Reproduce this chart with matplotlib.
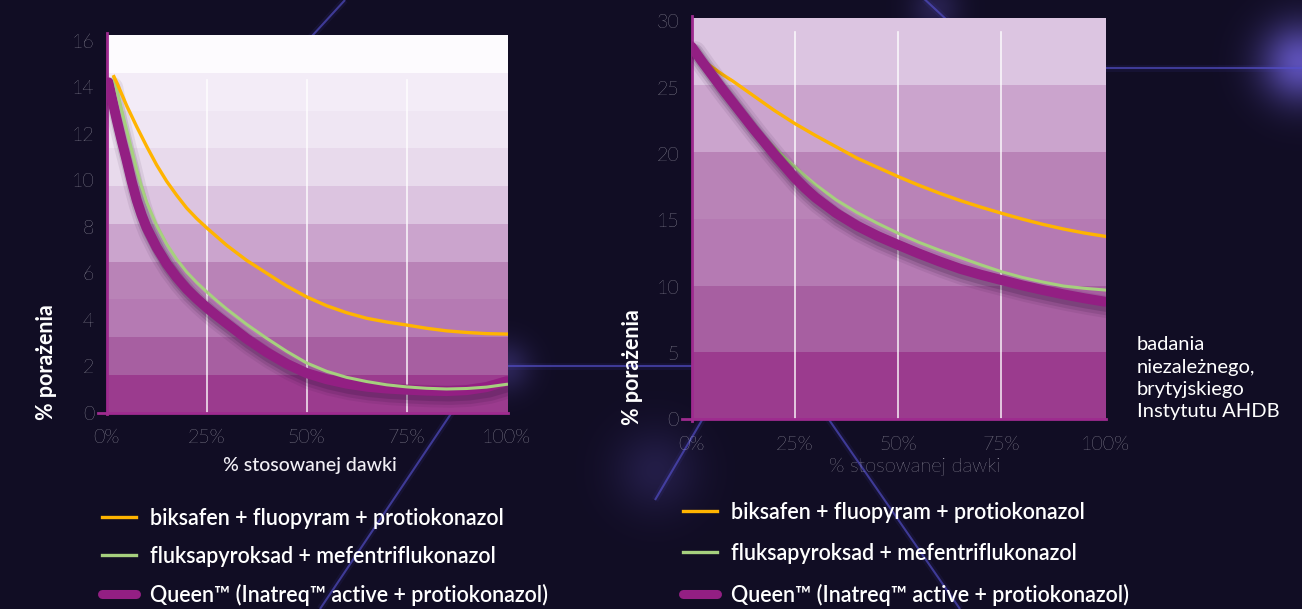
import numpy as np
import matplotlib.pyplot as plt
import matplotlib.patheffects as pe
from matplotlib.lines import Line2D

plt.rcParams['font.family'] = ['Lato', 'DejaVu Sans']

# ==> Data
# left chart (% porażenia, 0-16)
left_x_biksafen = [1.8, 2.5, 3.75, 5, 6.25, 7.5, 10, 12.5, 15, 17.5, 20, 22.5, 25, 30, 35, 40,
                   45, 50, 55, 60, 65, 70, 75, 80, 85, 90, 95, 100]
left_biksafen = [14.45, 14.2, 13.7, 13.2, 12.75, 12.3, 11.45, 10.65, 9.95, 9.35, 8.8, 8.35, 7.95,
                 7.2, 6.55, 6.0, 5.45, 4.98, 4.6, 4.3, 4.06, 3.9, 3.77, 3.63, 3.52, 3.45, 3.4, 3.38]
left_x_fluksa = [1.8, 2.5, 3.75, 5, 6.25, 7.5, 8.75, 10, 12.5, 15, 17.5, 20, 22.5, 25, 27.5, 30,
                 35, 40, 45, 50, 55, 60, 65, 70, 75, 80, 85, 90, 95, 100]
left_fluksa = [14.4, 13.9, 13.0, 12.15, 11.3, 10.45, 9.7, 9.05, 8.05, 7.25, 6.6, 6.05, 5.6, 5.2,
               4.82, 4.46, 3.8, 3.2, 2.64, 2.14, 1.78, 1.52, 1.34, 1.2, 1.11, 1.05, 1.02, 1.04,
               1.1, 1.22]
left_x_queen = [0.5, 1.25, 2.5, 3.75, 5, 6.25, 7.5, 8.75, 10, 12.5, 15, 17.5, 20, 22.5, 25, 27.5,
                30, 35, 40, 45, 50, 55, 60, 65, 70, 75, 80, 85, 90, 95, 100]
left_queen = [14.2, 13.55, 12.6, 11.7, 10.85, 9.95, 9.15, 8.5, 7.95, 7.1, 6.4, 5.82, 5.32,
              4.9, 4.52, 4.17, 3.84, 3.18, 2.6, 2.1, 1.7, 1.44, 1.25, 1.12, 1.04, 0.99, 0.95,
              0.93, 0.97, 1.1, 1.35]

# right chart (% porażenia, 0-30)
right_x = [0, 2.5, 5, 7.5, 10, 12.5, 15, 17.5, 20, 22.5, 25, 27.5, 30, 35, 40, 45, 50,
           55, 60, 65, 70, 75, 80, 85, 90, 95, 100]
right_biksafen = [27.7, 27.1, 26.55, 26.0, 25.5, 24.95, 24.4, 23.85, 23.3, 22.8, 22.3, 21.85,
                  21.4, 20.55, 19.7, 19.0, 18.3, 17.65, 17.05, 16.5, 16.0, 15.54, 15.1, 14.7,
                  14.35, 14.05, 13.8]
right_fluksa = [28.1, 27.0, 26.0, 25.0, 24.05, 23.1, 22.2, 21.3, 20.5, 19.75, 19.05, 18.35,
                17.7, 16.55, 15.6, 14.78, 14.03, 13.35, 12.75, 12.2, 11.65, 11.13, 10.7, 10.35,
                10.05, 9.88, 9.75]
right_queen = [28.1, 27.0, 25.95, 24.9, 23.9, 22.9, 21.9, 20.95, 20.0, 19.1, 18.2, 17.42,
               16.72, 15.55, 14.6, 13.82, 13.15, 12.5, 11.9, 11.35, 10.9, 10.5, 10.1, 9.75,
               9.42, 9.13, 8.87]

x_ticks = [0, 25, 50, 75, 100]
x_ticklabels = ['0%', '25%', '50%', '75%', '100%']
left_yticks = [0, 2, 4, 6, 8, 10, 12, 14, 16]
right_yticks = [0, 5, 10, 15, 20, 25, 30]

series_labels = ['biksafen + fluopyram + protiokonazol',
                 'fluksapyroksad + mefentriflukonazol',
                 'Queen\u2122 (Inatreq\u2122 active + protiokonazol)']
note = 'badania\nniezależnego,\nbrytyjskiego\nInstytutu AHDB'

# ==> Styles
BG = '#110d24'
YELLOW = '#ffb400'
GREEN = '#a6d07e'
PURPLE = '#931f83'
SPINE = '#9e2b8f'
left_bands = ['#9b3b8e', '#a75fa1', '#b57ab3', '#b983b7', '#cba4cd',
              '#dcc4e0', '#e8daec', '#efe6f3', '#f3ecf7', '#fdfbfe']
right_bands = ['#9b3b8e', '#a75fa1', '#b57ab3', '#b983b7', '#cba4cd', '#dcc5e1']

W, H = 1302, 609
fig = plt.figure(figsize=(W / 100, H / 100), dpi=100)
fig.patch.set_facecolor(BG)

# ==> Background decoration (glows + faint lines)
bg = fig.add_axes([0, 0, 1, 1], zorder=-10)
bg.set_xlim(0, W)
bg.set_ylim(H, 0)
bg.axis('off')
yy, xx = np.mgrid[0:H, 0:W]
img = np.zeros((H, W, 3))
img[:] = np.array([0x11, 0x0d, 0x24]) / 255
glow_col = np.array([0x6a, 0x5c, 0xd0]) / 255
for gx, gy, s, a in [(1300, 62, 28, 0.85), (505, 366, 18, 0.3), (655, 470, 30, 0.2), (935, 8, 18, 0.25)]:
    g = a * np.exp(-((xx - gx) ** 2 + (yy - gy) ** 2) / (2 * s ** 2))
    img = img * (1 - g[..., None]) + glow_col * g[..., None]
bg.imshow(img, extent=(0, W, H, 0), aspect='auto', zorder=0)
deco = [((1100, 68), (1302, 68)), ((400, 366), (700, 366)), ((487, 360), (320, 609)),
        ((760, 320), (960, 609)), ((920, -5), (990, 60)), ((345, 0), (290, 60)),
        ((705, 415), (655, 500))]
for (xa, ya), (xb, yb) in deco:
    bg.plot([xa, xb], [ya, yb], color='#4b47c0', lw=5, alpha=0.1, solid_capstyle='butt')
    bg.plot([xa, xb], [ya, yb], color='#5550cc', lw=1.5, alpha=0.65, solid_capstyle='butt')


def shadow():
    return [pe.SimpleLineShadow(offset=(2.5, -4), shadow_color='#2a0f35', alpha=0.08, linewidth=16),
            pe.SimpleLineShadow(offset=(2.5, -4), shadow_color='#2a0f35', alpha=0.13, linewidth=12),
            pe.SimpleLineShadow(offset=(2, -3), shadow_color='#2a0f35', alpha=0.18, linewidth=9),
            pe.Normal()]


def setup(ax, ymax, bands, yticks, grid_top):
    ax.set_xlim(0, 100.3)
    ax.set_ylim(0, ymax)
    edges = np.linspace(0, ymax, len(bands) + 1)
    for i, c in enumerate(bands):
        ax.axhspan(edges[i], edges[i + 1], color=c, lw=0, zorder=0)
    for xv in x_ticks[1:-1]:
        ax.axvline(xv, ymax=grid_top, color='white', lw=1.2, alpha=0.85, zorder=1)
    ax.set_facecolor('none')
    for s in ['top', 'right']:
        ax.spines[s].set_visible(False)
    for s in ['left', 'bottom']:
        ax.spines[s].set_color(SPINE)
        ax.spines[s].set_linewidth(2)
    ax.spines['bottom'].set_bounds(-2.2, 100.3)
    ax.spines['left'].set_bounds(-0.003 * ymax, ymax * 1.006)
    ax.set_xticks(x_ticks, x_ticklabels)
    ax.set_yticks(yticks)
    ax.tick_params(length=0, colors='#dddbe4', labelsize=14)
    ax.tick_params(axis='x', pad=12)
    ax.tick_params(axis='y', pad=9)
    for lab in ax.get_xticklabels() + ax.get_yticklabels():
        lab.set_fontweight('light')


# ==> Left chart
ax1 = fig.add_axes([106.7 / W, 196.3 / H, 401 / W, 377.7 / H])
setup(ax1, 16.24, left_bands, left_yticks, 0.88)
ax1.plot(left_x_queen, left_queen, color=PURPLE, lw=7.2, solid_capstyle='round',
         path_effects=shadow(), zorder=3)
ax1.plot(left_x_fluksa, left_fluksa, color=GREEN, lw=2.2, zorder=4)
ax1.plot(left_x_biksafen, left_biksafen, color=YELLOW, lw=2.4, zorder=5)
ax1.set_ylabel('% porażenia', color='white', fontsize=15.5, fontweight='bold', va='center')
ax1.yaxis.set_label_coords(-0.151, 0.134)
ax1.set_xlabel('% stosowanej dawki', color='#f2f0f6', fontsize=14, fontweight='medium', va='center')
ax1.xaxis.set_label_coords(0.507, -0.1385)

# ==> Right chart (thin lines sit under the thick Queen line here)
ax2 = fig.add_axes([691.5 / W, 189.7 / H, 414.5 / W, 401.3 / H])
setup(ax2, 30.26, right_bands, right_yticks, 0.965)
ax2.plot(right_x, right_biksafen, color=YELLOW, lw=2.4, zorder=2.8)
ax2.plot(right_x, right_fluksa, color=GREEN, lw=2.2, zorder=2.9)
ax2.plot(right_x, right_queen, color=PURPLE, lw=7.2, solid_capstyle='round',
         path_effects=shadow(), zorder=3)
ax2.set_ylabel('% porażenia', color='white', fontsize=15.5, fontweight='bold', va='center')
ax2.yaxis.set_label_coords(-0.1435, 0.130)
ax2.set_xlabel('% stosowanej dawki', color='#d6d4de', fontsize=14.5, fontweight='light', va='center')
ax2.xaxis.set_label_coords(0.539, -0.119)

fig.text(1136.7 / W, (H - 378.3) / H, note, color='white', fontsize=14.5,
         ha='left', va='center', linespacing=1.38)

# ==> Legends
def legend_handles():
    return [Line2D([], [], color=YELLOW, lw=2.4),
            Line2D([], [], color=GREEN, lw=2.4),
            Line2D([], [], color=PURPLE, lw=6.5, solid_capstyle='round')]


for ax, lx, ly, sp in [(ax1, 102, 508, 0.78), (ax2, 683, 502, 0.92)]:
    leg = ax.legend(legend_handles(), series_labels, loc='upper left',
                    bbox_to_anchor=(lx / W, (H - ly) / H), bbox_transform=fig.transFigure,
                    frameon=False, borderpad=0, borderaxespad=0, handlelength=1.6,
                    handletextpad=0.65, labelspacing=sp,
                    prop={'size': 15.5, 'weight': 'semibold'})
    for t in leg.get_texts():
        t.set_color('white')

fig.savefig('out.png', dpi=100, facecolor=BG)
